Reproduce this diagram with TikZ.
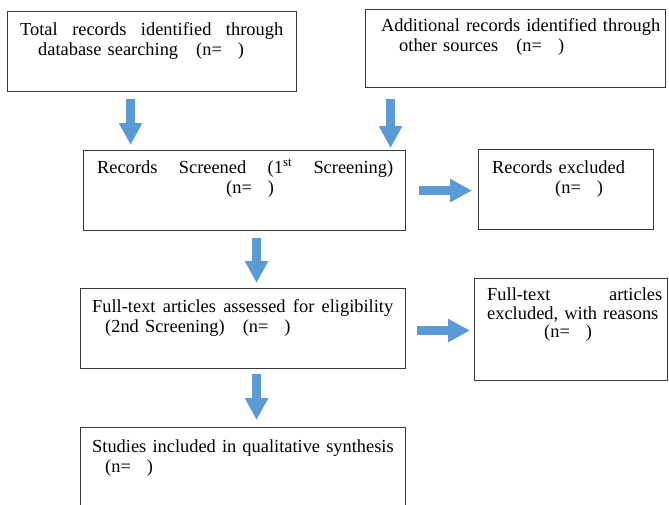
\documentclass[tikz,border=0pt]{standalone}
\usepackage{fontspec}
\setmainfont{Liberation Serif}
\usetikzlibrary{arrows.meta,calc}
\definecolor{flowblue}{HTML}{5B9BD5}
\newcommand{\spreadline}[2]{\leavevmode\hbox to #1{#2}}
\tikzset{
  box/.style={draw=black!78, line width=1.1pt, inner sep=0pt, anchor=north west},
  txt/.style={anchor=north west, inner sep=0pt, align=left,
    font=\fontsize{18.4}{20}\selectfont},
  flow/.style={draw=flowblue, line width=9pt, -{Triangle[width=22pt,length=22pt]}}
}
\begin{document}
\begin{tikzpicture}[x=1pt,y=-1pt]
\useasboundingbox (0,0) rectangle (669,504);
\node[box, minimum width=289pt, minimum height=80pt] (total) at (7,11) {};
\node[box, minimum width=300pt, minimum height=78pt] (additional) at (365,9) {};
\node[box, minimum width=322pt, minimum height=80pt] (screened) at (83,150) {};
\node[box, minimum width=175pt, minimum height=80pt] (excluded) at (478,149) {};
\node[box, minimum width=325pt, minimum height=80pt] (fulltext) at (80,288) {};
\node[box, minimum width=193pt, minimum height=102pt] (ftexcl) at (474,278) {};
\node[box, minimum width=325pt, minimum height=100pt] (included) at (80,427) {};
\node[txt, text width=263pt] (total-t) at ($(total.north west)+(13,10)$)
  {\strut\spreadline{263pt}{Total\hfill records\hfill identified\hfill through}\\
   \hspace*{18pt}database searching\hspace{18pt}(n=\hspace{16pt})};
\node[txt, text width=285pt] (additional-t) at ($(additional.north west)+(16,8)$)
  {\strut Additional records identified through\\
   \hspace*{18pt}other sources\hspace{18pt}(n=\hspace{16pt})};
\node[txt, text width=296pt] (screened-t) at ($(screened.north west)+(14,9)$)
  {\strut\spreadline{296pt}{Records\hfill Screened\hfill (1\textsuperscript{st}\hfill Screening)}\\
   \hspace*{129pt}(n=\hspace{16pt})};
\node[txt, text width=160pt] (excluded-t) at ($(excluded.north west)+(14,10)$)
  {\strut Records excluded\\
   \hspace*{63pt}(n=\hspace{16pt})};
\node[txt, text width=301pt] (fulltext-t) at ($(fulltext.north west)+(12,10)$)
  {\strut\spreadline{301pt}{Full-text\hfill articles\hfill assessed\hfill for\hfill eligibility}\\
   \hspace*{13pt}(2nd Screening)\hspace{18pt}(n=\hspace{16pt})};
\node[txt, text width=175pt, font=\fontsize{18.4}{18}\selectfont] (ftexcl-t)
  at ($(ftexcl.north west)+(13,9.4)$)
  {\strut\spreadline{175pt}{Full-text\hfill articles}\\
   excluded, with reasons\\
   \hspace*{57pt}(n=\hspace{16pt})};
\node[txt, text width=310pt] (included-t) at ($(included.north west)+(12,11)$)
  {\strut Studies included in qualitative synthesis\\
   \hspace*{13pt}(n=\hspace{16pt})};
\draw[flow] ($(total.south)+(-21.5,7)$) -- ($(screened.north)+(-114,-5)$);
\draw[flow] ($(additional.south)+(-125,11)$) -- ($(screened.north)+(146,-2)$);
\draw[flow] ($(screened.east)+(13,0)$) -- ($(excluded.west)+(-6,1)$);
\draw[flow] ($(screened.south)+(12,7)$) -- ($(fulltext.north)+(13.5,-5)$);
\draw[flow] ($(fulltext.east)+(11,2)$) -- ($(ftexcl.west)+(-4,1)$);
\draw[flow] ($(fulltext.south)+(13.5,5)$) -- ($(included.north)+(13.5,-7)$);
\end{tikzpicture}
\end{document}
